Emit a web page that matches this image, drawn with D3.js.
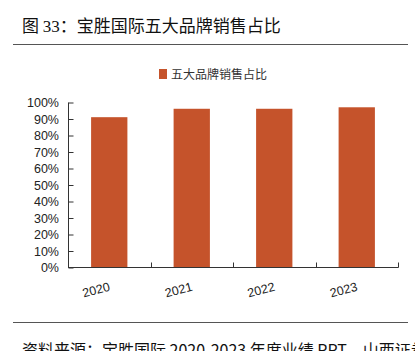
<!DOCTYPE html>
<html>
<head>
<meta charset="utf-8">
<script src="https://cdn.jsdelivr.net/npm/d3@7"></script>
<style>
  body { margin: 0; background: #fff; }
  svg { display: block; }
  text { font-family: "Liberation Sans", Arial, sans-serif; }
  .cjk { font-family: "Noto Sans CJK SC", sans-serif; }
</style>
</head>
<body>
<svg id="chart" width="415" height="351"></svg>
<script>
// data
let years = ["2020", "2021", "2022", "2023"];
let shares = [0.911, 0.962, 0.962, 0.971];
let yTicks = [0, 0.1, 0.2, 0.3, 0.4, 0.5, 0.6, 0.7, 0.8, 0.9, 1.0];
let seriesName = "五大品牌销售占比";
let source = "资料来源：宝胜国际 2020-2023 年度业绩 PPT，山西证券研究所";

let svg = d3.select("#chart");
let barColor = "#C5532B";

// header: "图 33：" with serif digits, then title
let t = svg.append("text").attr("class", "cjk")
  .attr("x", 22).attr("y", 32)
  .attr("font-size", 17).attr("fill", "#111");
t.append("tspan").text("图 ");
t.append("tspan").attr("font-family", "Liberation Serif, serif").text("33");
t.append("tspan").text("：宝胜国际五大品牌销售占比");

svg.append("line").attr("x1", 13).attr("x2", 408).attr("y1", 44.5).attr("y2", 44.5)
  .attr("stroke", "#555").attr("stroke-width", 1);
svg.append("line").attr("x1", 13).attr("x2", 408).attr("y1", 322.5).attr("y2", 322.5)
  .attr("stroke", "#555").attr("stroke-width", 1);
// source line, cut by the bottom edge as in the picture
svg.append("text").attr("class", "cjk")
  .attr("x", 22).attr("y", 356)
  .attr("font-size", 16).attr("fill", "#111")
  .text(source);

// scales
let x = d3.scaleBand().domain(years).range([68, 398]).paddingInner(0.56).paddingOuter(0.28);
let y = d3.scaleLinear().domain([0, 1]).range([267.5, 102.5]);

// bars
svg.append("g").selectAll("rect")
  .data(shares)
  .join("rect")
  .attr("x", (d, i) => x(years[i]))
  .attr("width", x.bandwidth())
  .attr("y", d => y(d))
  .attr("height", d => y(0) - y(d))
  .attr("fill", barColor);

// y axis, ticks pointing inward
let yAxis = svg.append("g").attr("transform", "translate(68.5,0)")
  .call(d3.axisRight(y).tickValues(yTicks).tickSize(5).tickFormat(""));
yAxis.select(".domain").attr("d", "M0," + y(1) + "V" + y(0)).attr("stroke", "#333");
yAxis.selectAll(".tick line").attr("stroke", "#333");
svg.append("g").selectAll("text")
  .data(yTicks)
  .join("text")
  .attr("x", 59).attr("y", d => y(d) + 4.5)
  .attr("text-anchor", "end")
  .attr("font-size", 12.5).attr("fill", "#222")
  .text(d => d3.format(".0%")(d));

// x axis with boundary ticks pointing up
let bounds = d3.range(years.length + 1).map(i => 68 + i * (398 - 68) / years.length);
let xg = svg.append("g");
xg.append("line").attr("x1", 68).attr("x2", 398.5).attr("y1", 267.5).attr("y2", 267.5)
  .attr("stroke", "#333");
xg.selectAll(".btick").data(bounds.slice(1)).join("line")
  .attr("class", "btick")
  .attr("x1", d => Math.round(d) + 0.5).attr("x2", d => Math.round(d) + 0.5)
  .attr("y1", 267.5).attr("y2", 262.5)
  .attr("stroke", "#333");
xg.selectAll(".xlab").data(years).join("text")
  .attr("class", "xlab")
  .attr("transform", d => `translate(${x(d) + x.bandwidth() / 2 - 12},${294}) rotate(-15)`)
  .attr("text-anchor", "middle")
  .attr("font-size", 12.5).attr("fill", "#222")
  .text(d => d);

// legend
svg.append("rect").attr("x", 159).attr("y", 69).attr("width", 8).attr("height", 10).attr("fill", barColor);
svg.append("text").attr("class", "cjk")
  .attr("x", 171).attr("y", 79)
  .attr("font-size", 12).attr("fill", "#333")
  .text(seriesName);
</script>
</body>
</html>
